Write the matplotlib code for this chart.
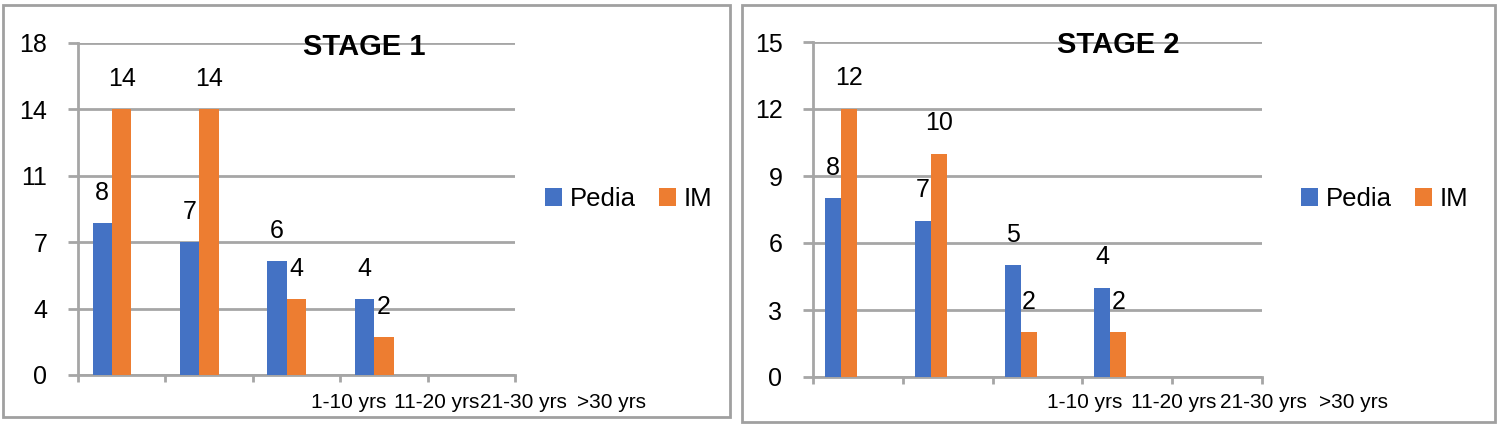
import numpy as np
import matplotlib
matplotlib.use("Agg")
import matplotlib.pyplot as plt
from matplotlib.patches import Rectangle
from matplotlib.transforms import blended_transform_factory

plt.rcParams['font.family'] = ['Liberation Sans', 'DejaVu Sans']

categories = ["1-10 yrs", "11-20 yrs", "21-30 yrs", ">30 yrs"]
series_names = ["Pedia", "IM"]
stage1_pedia = [8, 7, 6, 4]
stage1_im = [14, 14, 4, 2]
stage2_pedia = [8, 7, 5, 4]
stage2_im = [12, 10, 2, 2]
stage1_ticks = [0, 3.5, 7, 10.5, 14, 17.5]
stage1_ticklabels = ["0", "4", "7", "11", "14", "18"]
stage2_ticks = [0, 3, 6, 9, 12, 15]
stage2_ticklabels = ["0", "3", "6", "9", "12", "15"]

blue = '#4472C4'
orange = '#ED7D31'
grid_c = '#a6a6a6'

W, H = 1500, 429
fig = plt.figure(figsize=(W / 100, H / 100), dpi=100)


def px_box(x0, y0, x1, y1):
    # pixel box (top-left origin) -> figure fraction [l, b, w, h]
    return [x0 / W, 1 - y1 / H, (x1 - x0) / W, (y1 - y0) / H]


panels = [
    dict(box=(78, 43, 515, 375), frame=(3, 5, 730, 417), pedia=stage1_pedia, im=stage1_im,
         ticks=stage1_ticks, labels=stage1_ticklabels, bw=0.222, off_p=-0.222, off_i=0.0,
         title="STAGE 1", title_xy=(364, 47), cat_off=2.6, legend_xy=(545, 199)),
    dict(box=(813, 42, 1262, 377), frame=(742, 5, 1495, 422), pedia=stage2_pedia, im=stage2_im,
         ticks=stage2_ticks, labels=stage2_ticklabels, bw=0.178, off_p=-0.277, off_i=-0.099,
         title="STAGE 2", title_xy=(1118, 45), cat_off=2.52, legend_xy=(1301, 199)),
]

for p in panels:
    fx0, fy0, fx1, fy1 = p['frame']
    fig.patches.append(Rectangle((fx0 / W, 1 - fy1 / H), (fx1 - fx0) / W, (fy1 - fy0) / H,
                                 transform=fig.transFigure, fill=False, edgecolor='#a0a0a0', lw=2))

    ax = fig.add_axes(px_box(*p['box']))
    x = np.arange(len(categories))
    b1 = ax.bar(x + p['off_p'], p['pedia'], width=p['bw'], color=blue, label=series_names[0], zorder=3)
    b2 = ax.bar(x + p['off_i'], p['im'], width=p['bw'], color=orange, label=series_names[1], zorder=3)
    for bars, vals in ((b1, p['pedia']), (b2, p['im'])):
        for r, v in zip(bars, vals):
            ax.annotate(str(v), (r.get_x() + r.get_width() / 2, v), xytext=(0, 22),
                        textcoords='offset points', ha='center', va='center', fontsize=18)

    ax.set_xlim(-0.5, 4.5)
    ax.set_ylim(p['ticks'][0], p['ticks'][-1])
    ax.set_yticks(p['ticks'])
    ax.set_yticklabels(p['labels'])
    ax.set_xticks(np.arange(-0.5, 4.6, 1))
    ax.set_xticklabels([])
    ax.grid(axis='y', color=grid_c, lw=2, zorder=0)
    ax.tick_params(axis='y', length=7, width=2, color=grid_c, labelsize=18, pad=15)
    ax.tick_params(axis='x', length=5, width=2, color=grid_c)
    for s in ('top', 'right'):
        ax.spines[s].set_visible(False)
    for s in ('left', 'bottom'):
        ax.spines[s].set_color(grid_c)
        ax.spines[s].set_linewidth(2)

    tr = blended_transform_factory(ax.transData, fig.transFigure)
    for i, c in enumerate(categories):
        ax.text(i + p['cat_off'], 1 - 402 / H, c, transform=tr, ha='center', va='center',
                fontsize=15, clip_on=False)

    tx, ty = p['title_xy']
    fig.text(tx / W, 1 - ty / H, p['title'], ha='center', va='center', fontsize=21, fontweight='bold')

    lx, ly = p['legend_xy']
    fig.legend(handles=[b1, b2], loc='center left', bbox_to_anchor=(lx / W, 1 - ly / H),
               ncol=2, frameon=False, fontsize=18.5, borderpad=0, borderaxespad=0,
               handlelength=0.66, handleheight=0.66, handletextpad=0.3, columnspacing=0.9)

fig.savefig("out.png", dpi=100)
